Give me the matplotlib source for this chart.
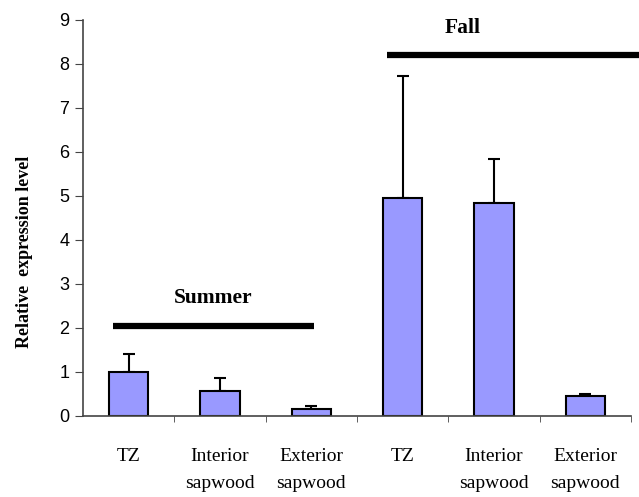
import numpy as np
import matplotlib.pyplot as plt

# data
categories = ["TZ", "Interior\nsapwood", "Exterior\nsapwood",
              "TZ", "Interior\nsapwood", "Exterior\nsapwood"]
means = [1.0, 0.57, 0.17, 4.95, 4.85, 0.45]
errors = [0.40, 0.30, 0.06, 2.77, 1.00, 0.05]
season_names = ["Summer", "Fall"]

serif = "Liberation Serif"
sans = "Liberation Sans"

fig = plt.figure(figsize=(6.39, 4.97), dpi=100)
ax = fig.add_axes([0.13, 0.163, 0.8575, 0.797])

x = np.arange(len(categories))
ax.bar(x, means, width=0.43, color="#9999FF", edgecolor="black", linewidth=1.5, zorder=2)
ax.errorbar(x, means, yerr=[np.zeros(len(errors)), errors], fmt="none",
            ecolor="black", elinewidth=1.5, capsize=4.5, capthick=1.5, zorder=1)

# season bars and labels
ax.plot([-0.17, 2.03], [2.05, 2.05], color="black", lw=4.5, solid_capstyle="butt")
ax.plot([2.83, 6.6], [8.2, 8.2], color="black", lw=4.5, solid_capstyle="butt", clip_on=False)
ax.text(0.92, 2.68, season_names[0], ha="center", va="center", fontsize=15.5,
        fontweight="bold", family=serif)
ax.text(3.66, 8.82, season_names[1], ha="center", va="center", fontsize=15.5,
        fontweight="bold", family=serif)

ax.set_xlim(-0.5, 5.5)
ax.set_ylim(0, 9)
ax.set_yticks(range(0, 10))
for lab in ax.get_yticklabels():
    lab.set_family(sans)
    lab.set_fontsize(13)
ax.set_xticks(x)
ax.set_xticklabels(categories, family=serif, fontsize=14)
for lab in ax.get_xticklabels():
    lab.set_linespacing(1.8)
ax.tick_params(axis="x", length=0, pad=23)
ax.set_xticks(np.arange(0.5, 5.6, 1.0), minor=True)
ax.tick_params(axis="x", which="minor", length=4, direction="out", color="#444444")
ax.tick_params(axis="y", length=6, direction="out", color="#444444", pad=4)

for s in ["top", "right"]:
    ax.spines[s].set_visible(False)
for s in ["left", "bottom"]:
    ax.spines[s].set_color("#444444")
    ax.spines[s].set_linewidth(1.2)

ax.set_ylabel("Relative  expression level", family=serif, fontweight="bold",
              fontsize=13)
ax.yaxis.set_label_coords(-0.092, 0.414)

fig.savefig("out.png", dpi=100)
